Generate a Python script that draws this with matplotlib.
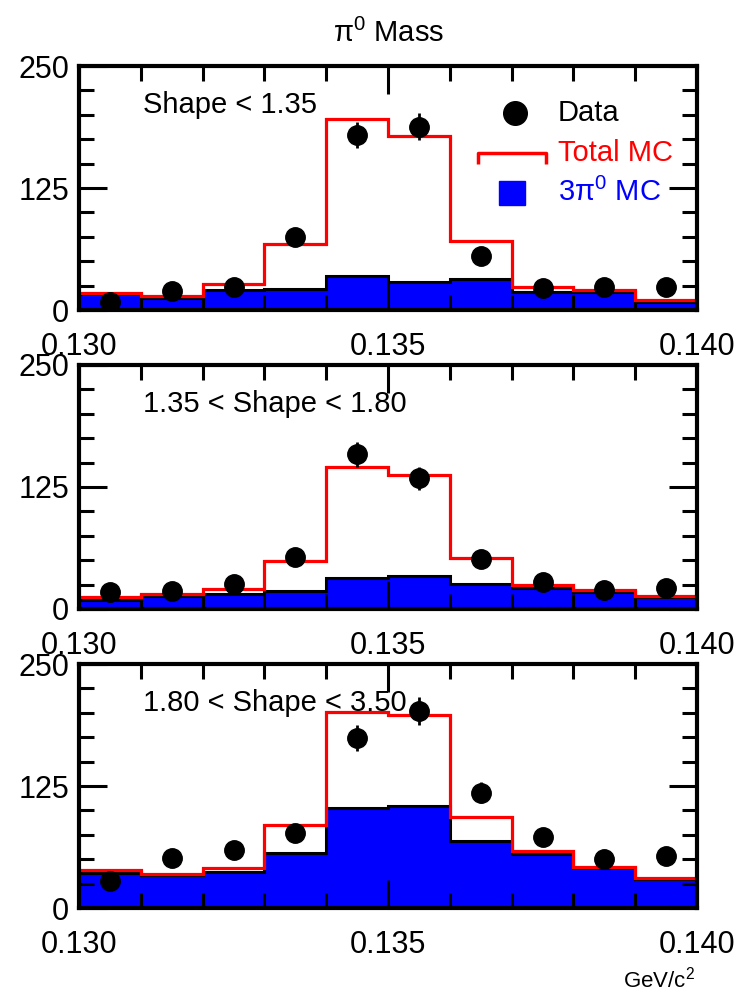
import matplotlib
matplotlib.use('Agg')
import matplotlib.pyplot as plt
import numpy as np

plt.rcParams['font.family'] = ['Liberation Sans', 'DejaVu Sans']
plt.rcParams['mathtext.fontset'] = 'custom'
plt.rcParams['mathtext.rm'] = 'Liberation Sans'
plt.rcParams['mathtext.it'] = 'Liberation Sans'

edges = np.linspace(0.130, 0.140, 11)
centers = 0.5 * (edges[:-1] + edges[1:])

labels = ['Shape < 1.35', '1.35 < Shape < 1.80', '1.80 < Shape < 3.50']

# total MC (red)
total1 = [17.8, 14.7, 26.4, 67.8, 196, 178, 71, 24, 20.5, 10.3]
total2 = [11.9, 15.7, 20.8, 49, 146, 137, 52, 25, 19, 13.6]
total3 = [38.6, 35.2, 41.4, 85.5, 201, 198, 93.4, 58.8, 42.4, 30.4]

# 3pi0 MC (blue)
sig1 = [16.4, 12.7, 20.5, 21.9, 34.9, 29.1, 31.8, 18.5, 18.5, 8.6]
sig2 = [9.5, 13.6, 15.7, 18.1, 32, 33.4, 25.2, 21.5, 17.4, 12.3]
sig3 = [36.3, 33.9, 36.9, 56.1, 102, 104.7, 68.7, 55.1, 41.4, 29.4]

# data
data1 = [7.9, 19.9, 24, 74.7, 179, 188, 55.5, 22.3, 24, 23.3]
data2 = [17, 18.1, 25.6, 52.9, 158.6, 134, 51.5, 27.6, 19.1, 21.5]
data3 = [27.7, 51.6, 59.5, 77.3, 174.4, 202, 118.3, 73.2, 49.9, 53.4]

err1 = [2.8, 4.5, 4.9, 8.6, 13.4, 13.7, 7.4, 4.7, 4.9, 4.8]
err2 = [4.1, 4.3, 5.1, 7.3, 12.6, 11.6, 7.2, 5.3, 4.4, 4.6]
err3 = [5.3, 7.2, 7.7, 8.8, 13.2, 14.2, 10.9, 8.6, 7.1, 7.3]

totals = [total1, total2, total3]
sigs = [sig1, sig2, sig3]
datas = [data1, data2, data3]
errs = [err1, err2, err3]

fig = plt.figure(figsize=(7.39, 9.93), dpi=100)

bottoms = [1 - 310 / 993, 1 - 609 / 993, 1 - 908 / 993]
left = 79 / 739
width = 618 / 739
height = 244 / 993

axes = []
for i in range(3):
    ax = fig.add_axes([left, bottoms[i], width, height])
    axes.append(ax)
    ax.stairs(sigs[i], edges, fill=True, color='#0000ff', zorder=1)
    ax.stairs(sigs[i], edges, color='black', lw=2.2, baseline=None, zorder=2)
    ax.stairs(totals[i], edges, color='#ff0000', lw=2.3, baseline=None, zorder=3)
    ax.errorbar(centers, datas[i], yerr=errs[i], fmt='o', color='black',
                ms=14, elinewidth=2, capsize=0, zorder=4)

    ax.set_xlim(0.130, 0.140)
    ax.set_ylim(0, 250)
    ax.set_xticks([0.130, 0.135, 0.140])
    ax.set_xticklabels(['0.130', '0.135', '0.140'])
    ax.set_xticks(np.arange(0.131, 0.1395, 0.001), minor=True)
    ax.set_yticks([0, 125, 250])
    ax.set_yticks(np.arange(25, 250, 25), minor=True)
    ax.tick_params(which='both', direction='in', top=True, right=True,
                   width=2.2, labelsize=22, color='black')
    ax.tick_params(which='major', length=20)
    ax.tick_params(which='minor', length=11)
    ax.tick_params(axis='x', which='major', pad=16)
    ax.tick_params(axis='y', which='major', pad=7)
    ax.set_axisbelow(False)
    for sp in ax.spines.values():
        sp.set_linewidth(3)
        sp.set_zorder(6)

    ax.text(0.103, 0.84, labels[i], transform=ax.transAxes, fontsize=21,
            va='center', ha='left', zorder=7)

# legend in top panel
ax = axes[0]
ax.plot([0.705], [0.806], 'o', color='black', ms=17, transform=ax.transAxes)
ax.text(0.775, 0.806, 'Data', transform=ax.transAxes, fontsize=21,
        va='center', ha='left')
ax.plot([0.646, 0.646, 0.756, 0.756], [0.599, 0.644, 0.644, 0.599],
        color='#ff0000', lw=2.5, transform=ax.transAxes, solid_capstyle='butt')
ax.text(0.775, 0.644, 'Total MC', transform=ax.transAxes, fontsize=21,
        va='center', ha='left', color='#ff0000')
ax.add_patch(plt.Rectangle((0.680, 0.429), 0.042, 0.1, color='#0000ff',
                           transform=ax.transAxes))
ax.text(0.775, 0.483, r'3$\mathregular{\pi^0}$ MC', transform=ax.transAxes,
        fontsize=21, va='center', ha='left', color='#0000ff')

fig.text(389 / 739, 1 - 33 / 993, r'$\mathregular{\pi^0}$ Mass', fontsize=21,
         ha='center', va='center')
fig.text(695 / 739, 1 - 980 / 993, r'GeV/c$\mathregular{^2}$', fontsize=16,
         ha='right', va='center')

fig.savefig('out.png', dpi=100)
